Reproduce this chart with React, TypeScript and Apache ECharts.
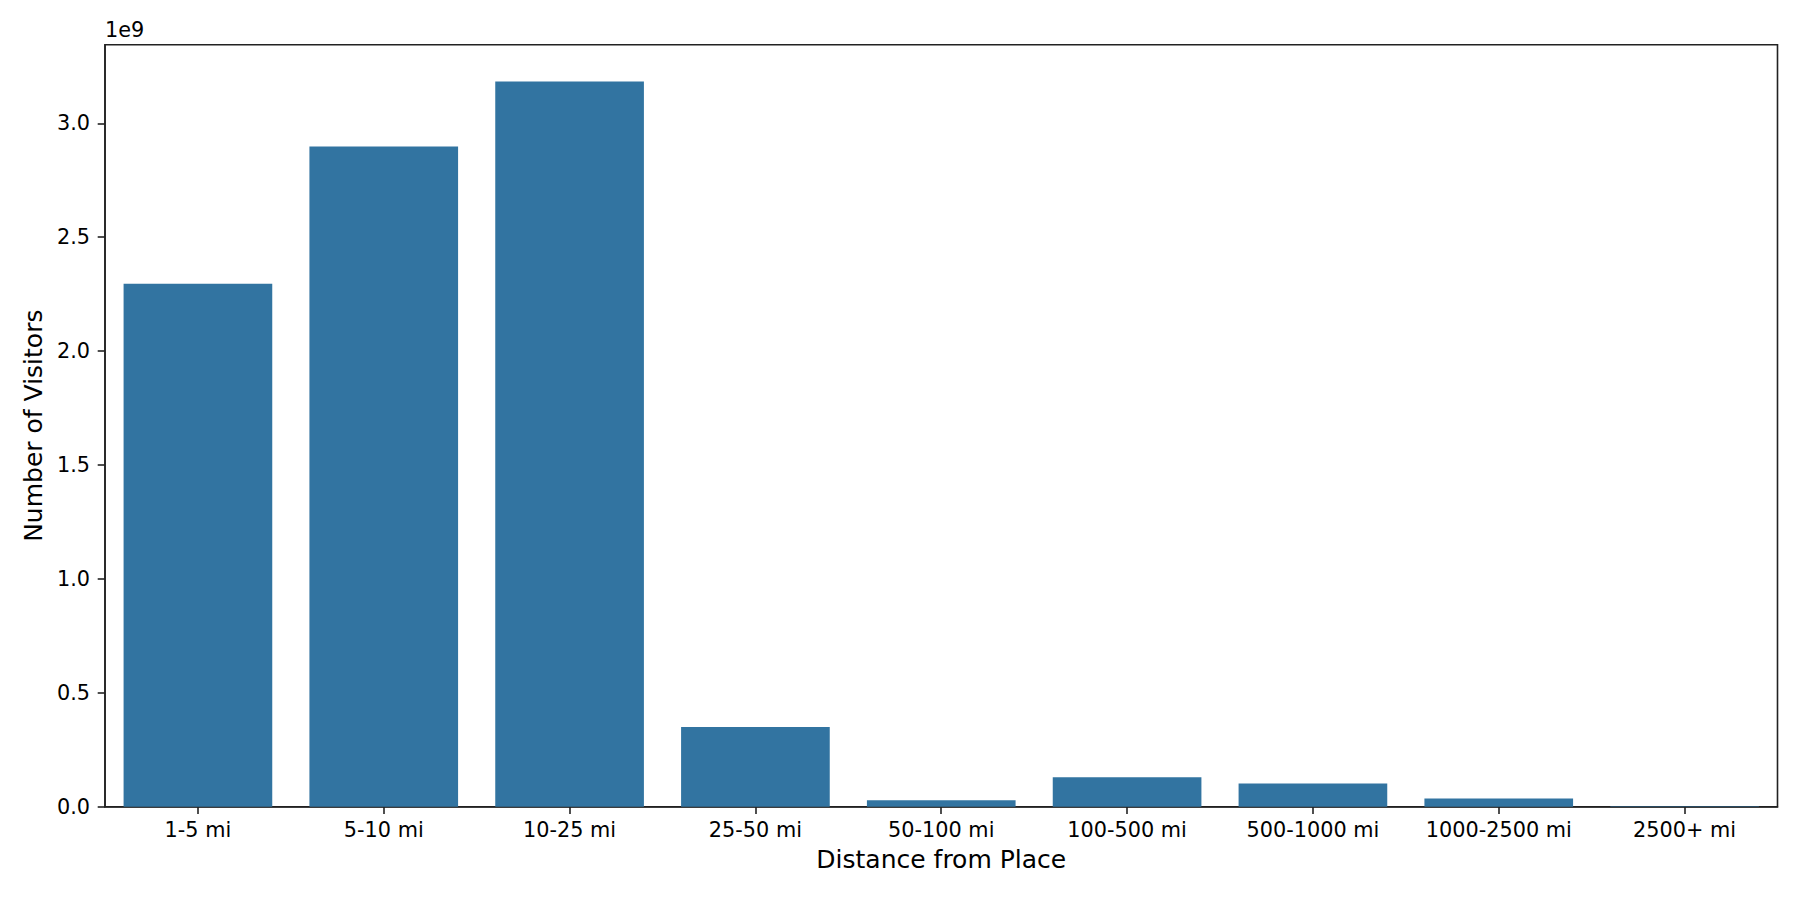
import React, { useEffect, useRef } from "react";
import * as echarts from "echarts";

const categories = [
  "1-5 mi",
  "5-10 mi",
  "10-25 mi",
  "25-50 mi",
  "50-100 mi",
  "100-500 mi",
  "500-1000 mi",
  "1000-2500 mi",
  "2500+ mi",
];
const visitors = [2.296e9, 2.898e9, 3.184e9, 0.35e9, 0.028e9, 0.129e9, 0.102e9, 0.036e9, 0.002e9];
const yTicks = [0, 0.5e9, 1.0e9, 1.5e9, 2.0e9, 2.5e9, 3.0e9];
const yMax = 3.345e9;

const FONT = "DejaVu Sans";
const INK = "#222222";

export default function App() {
  const ref = useRef<HTMLDivElement>(null);
  useEffect(() => {
    document.body.style.margin = "0";
    if (!ref.current) return;
    const chart = echarts.init(ref.current, null, { renderer: "svg" });
    chart.setOption({
      animation: false,
      backgroundColor: "#ffffff",
      textStyle: { fontFamily: FONT },
      grid: {
        left: 105,
        right: 22.5,
        top: 44.7,
        bottom: 93.3,
        show: true,
        borderColor: INK,
        borderWidth: 1.6,
        backgroundColor: "transparent",
      },
      graphic: [
        {
          type: "text",
          left: 105,
          top: 19,
          style: { text: "1e9", fontSize: 20.8, fontFamily: FONT, fill: "#000" },
        },
      ],
      xAxis: {
        type: "category",
        data: categories,
        boundaryGap: true,
        name: "Distance from Place",
        nameLocation: "middle",
        nameGap: 40,
        nameTextStyle: { fontSize: 25, color: "#000", fontFamily: FONT },
        axisLine: { show: true, lineStyle: { color: INK, width: 1.6 } },
        axisTick: { show: true, alignWithLabel: true, length: 7.3, lineStyle: { color: INK, width: 1.6 } },
        axisLabel: { fontSize: 20.8, color: "#000", margin: 13, fontFamily: FONT, interval: 0 },
        splitLine: { show: false },
      },
      yAxis: {
        type: "value",
        min: 0,
        max: yMax,
        name: "Number of Visitors",
        nameLocation: "middle",
        nameGap: 58,
        nameRotate: 90,
        nameTextStyle: { fontSize: 25, color: "#000", fontFamily: FONT },
        axisLine: { show: true, lineStyle: { color: INK, width: 1.6 } },
        axisTick: { show: true, length: 7.3, lineStyle: { color: INK, width: 1.6 }, customValues: yTicks },
        axisLabel: {
          fontSize: 20.8,
          color: "#000",
          margin: 15,
          fontFamily: FONT,
          customValues: yTicks,
          formatter: (v: number) => (v / 1e9).toFixed(1),
        },
        splitLine: { show: false },
      },
      series: [
        {
          type: "bar",
          data: visitors,
          barCategoryGap: "20%",
          itemStyle: { color: "#3274a1" },
        },
      ],
    });
    return () => chart.dispose();
  }, []);
  return <div ref={ref} style={{ width: 1800, height: 900 }} />;
}
